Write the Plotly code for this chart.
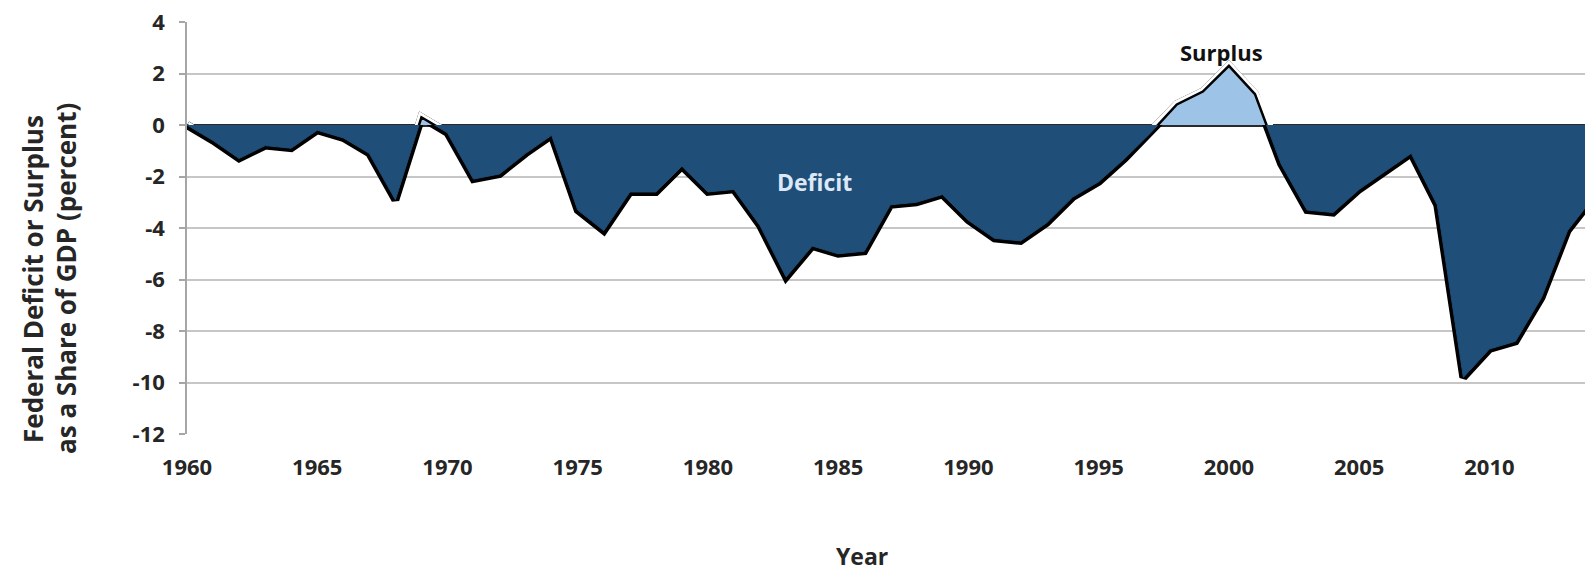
import plotly.graph_objects as go

years = list(range(1960, 2015))
balance = [0.0, -0.6, -1.3, -0.8, -0.9, -0.2, -0.5, -1.1, -2.9, 0.3,
           -0.3, -2.1, -1.9, -1.1, -0.4, -3.3, -4.1, -2.6, -2.6, -1.6,
           -2.6, -2.5, -3.9, -5.9, -4.7, -5.0, -4.9, -3.1, -3.0, -2.7,
           -3.7, -4.4, -4.5, -3.8, -2.8, -2.2, -1.3, -0.3, 0.8, 1.3,
           2.3, 1.2, -1.5, -3.3, -3.4, -2.5, -1.8, -1.1, -3.1, -9.8,
           -8.7, -8.4, -6.7, -4.1, -2.8]
y_ticks = [4, 2, 0, -2, -4, -6, -8, -10, -12]
y_labels = ["4", "2", "0", "-2", "-4", "-6", "-8", "-10", "-12"]
x_ticks = [1960, 1965, 1970, 1975, 1980, 1985, 1990, 1995, 2000, 2005, 2010]

DARK = "#1F4E79"
LIGHT = "#9DC3E6"
TXT = "#262626"
FONT = "Open Sans"

fig = go.Figure()
# black shadow outline
fig.add_trace(go.Scatter(x=years, y=balance, mode="lines",
                         line=dict(color="black", width=8),
                         hoverinfo="skip", showlegend=False))
# deficit area
fig.add_trace(go.Scatter(x=years, y=balance, mode="lines", fill="tozeroy",
                         fillcolor=DARK, line=dict(color=DARK, width=1),
                         showlegend=False))
# surplus part: separate subplot covering only the positive half (clips at 0)
fig.add_trace(go.Scatter(x=years, y=balance, mode="lines",
                         line=dict(color="white", width=8),
                         xaxis="x", yaxis="y2", hoverinfo="skip", showlegend=False))
fig.add_trace(go.Scatter(x=years, y=balance, mode="lines", fill="tozeroy",
                         fillcolor=LIGHT, line=dict(color=LIGHT, width=0.5),
                         xaxis="x", yaxis="y2", showlegend=False))
fig.add_trace(go.Scatter(x=years, y=balance, mode="lines",
                         line=dict(color="black", width=2.5),
                         xaxis="x", yaxis="y2", hoverinfo="skip", showlegend=False))

fig.update_layout(
    width=1585, height=571,
    margin=dict(l=187, r=0, t=22, b=137),
    plot_bgcolor="rgba(0,0,0,0)", paper_bgcolor="white",
    font=dict(family=FONT, color=TXT),
    xaxis=dict(range=[1960, 2013.67], tickvals=x_ticks, anchor="y",
               showgrid=False, showline=False, zeroline=False,
               ticks="", tickfont=dict(size=22, family=FONT, color=TXT, weight="bold"),
               ticklabelstandoff=18),
    yaxis=dict(range=[-12, 4], tickvals=y_ticks, ticktext=y_labels, domain=[0, 1],
               showgrid=True, gridcolor="#C6C6C6", gridwidth=2,
               zeroline=True, zerolinecolor="#2A2A2A", zerolinewidth=3,
               showline=True, linecolor="#A6A6A6", linewidth=1.5,
               ticks="outside", ticklen=6, tickcolor="#A6A6A6", tickwidth=1.5,
               tickfont=dict(size=22, family=FONT, color=TXT, weight="bold"),
               ticklabelstandoff=10),
    yaxis2=dict(range=[0, 4], domain=[0.75, 1], anchor="x",
                visible=False, showgrid=False, zeroline=False),
)

L, R, T, B = 187, 1585, 22, 434


def px_note(px, py, text, size, color, angle=0):
    fig.add_annotation(x=(px - L) / (R - L), y=(B - py) / (B - T),
                       xref="paper", yref="paper", text=text, textangle=angle,
                       showarrow=False, xanchor="center", yanchor="middle",
                       font=dict(size=size, family=FONT, color=color, weight="bold"))


px_note(1221, 52, "Surplus", 22, "#111111")
px_note(814, 182, "Deficit", 23, "#DCE8F5")
px_note(862, 556, "Year", 23, TXT)
px_note(33, 279, "Federal Deficit or Surplus", 26, TXT, -90)
px_note(66, 279, "as a Share of GDP (percent)", 26, TXT, -90)

fig.write_html("out.html")
